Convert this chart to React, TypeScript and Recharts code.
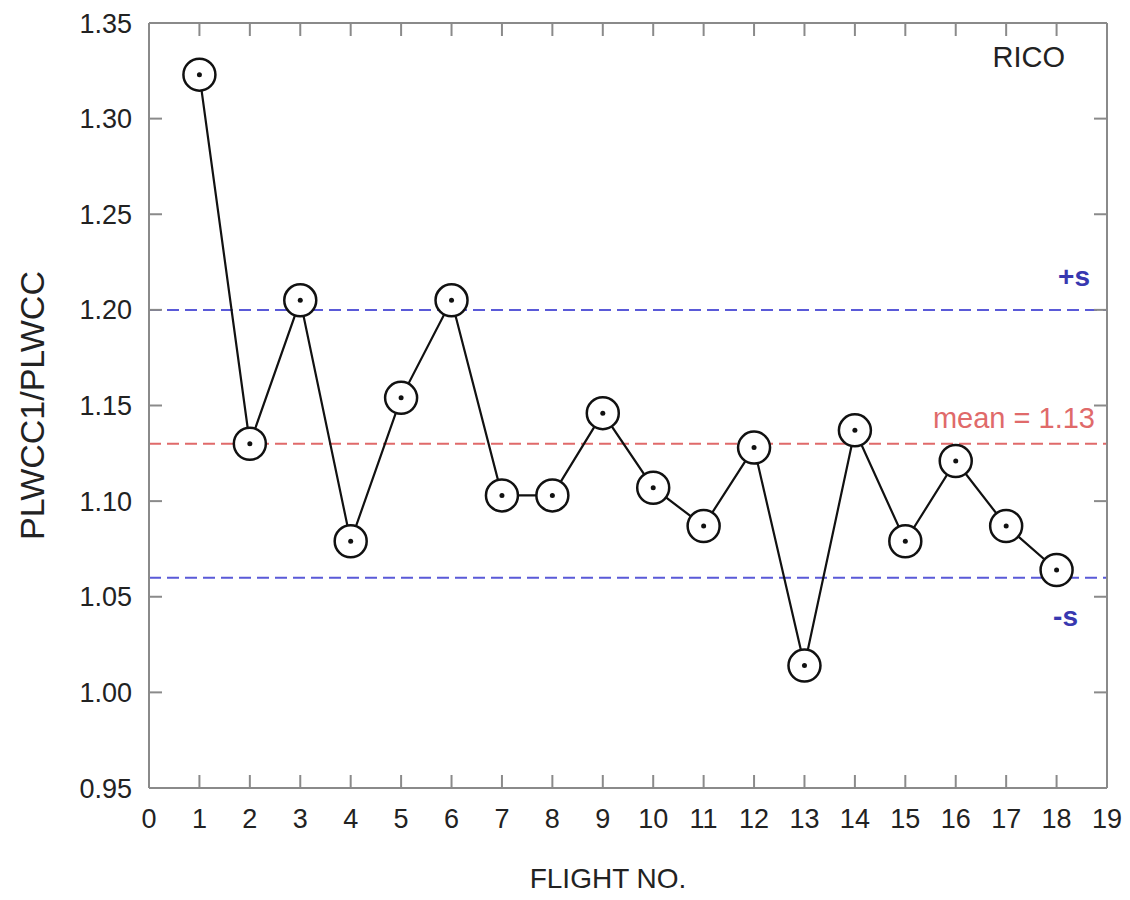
import { LineChart, Line, XAxis, YAxis, ReferenceLine } from 'recharts';

const flights = [1, 2, 3, 4, 5, 6, 7, 8, 9, 10, 11, 12, 13, 14, 15, 16, 17, 18];
const ratios = [
  1.323, 1.130, 1.205, 1.079, 1.154, 1.205, 1.103, 1.103, 1.146,
  1.107, 1.087, 1.128, 1.014, 1.137, 1.079, 1.121, 1.087, 1.064,
];
const xTicks = [0, 1, 2, 3, 4, 5, 6, 7, 8, 9, 10, 11, 12, 13, 14, 15, 16, 17, 18, 19];
const yTicks = [0.95, 1.0, 1.05, 1.1, 1.15, 1.2, 1.25, 1.3, 1.35];
const MEAN = 1.13;
const PLUS_S = 1.2;
const MINUS_S = 1.06;

const FONT = '"Liberation Sans", Arial, sans-serif';
const AXIS_GRAY = '#8a8a8a';
const BLUE = '#5a5ad8';
const RED = '#e06a6a';

const data = flights.map((flight, i) => ({ flight, ratio: ratios[i] }));

// circle with a dot in the middle, like the original plot symbol
const FlightDot = (props: any) => {
  const { cx, cy, index } = props;
  if (cx == null || cy == null) return null;
  return (
    <g key={`dot-${index}`}>
      <circle cx={cx} cy={cy} r={16} fill="#fff" stroke="#111" strokeWidth={2.5} />
      <circle cx={cx} cy={cy} r={2.5} fill="#111" />
    </g>
  );
};

// text placed relative to the right end of a reference line
const lineLabel = (text: string, color: string, dx: number, dy: number, size: number, weight = 400) =>
  (props: any) => {
    const vb = props.viewBox;
    if (!vb) return null;
    return (
      <text
        x={vb.x + vb.width - dx}
        y={vb.y + dy}
        textAnchor="end"
        fill={color}
        fontSize={size}
        fontWeight={weight}
        fontFamily={FONT}
      >
        {text}
      </text>
    );
  };

const noLabel = () => '';

export default function App() {
  return (
    <div style={{ position: 'absolute', left: 0, top: 0, background: '#fff' }}>
      <LineChart
        width={1130}
        height={900}
        data={data}
        margin={{ top: 22, right: 22, bottom: 0, left: 0 }}
        style={{ fontFamily: FONT }}
      >
        <XAxis
          dataKey="flight"
          type="number"
          domain={[0, 19]}
          ticks={xTicks}
          interval={0}
          height={112}
          tickSize={-13}
          tickMargin={34}
          axisLine={{ stroke: AXIS_GRAY, strokeWidth: 2 }}
          tickLine={{ stroke: AXIS_GRAY, strokeWidth: 2 }}
          tick={{ fill: '#222', fontSize: 27 }}
          label={{ value: 'FLIGHT NO.', position: 'insideBottom', offset: 12, dx: -20, fill: '#222', fontSize: 28 }}
        />
        <XAxis
          xAxisId="top"
          orientation="top"
          dataKey="flight"
          type="number"
          domain={[0, 19]}
          ticks={xTicks}
          interval={0}
          height={1}
          tickSize={-13}
          tickFormatter={noLabel}
          axisLine={{ stroke: AXIS_GRAY, strokeWidth: 2 }}
          tickLine={{ stroke: AXIS_GRAY, strokeWidth: 2 }}
        />
        <YAxis
          type="number"
          domain={[0.95, 1.35]}
          ticks={yTicks}
          interval={0}
          width={149}
          tickSize={-13}
          tickMargin={30}
          tickFormatter={(v: number) => v.toFixed(2)}
          axisLine={{ stroke: AXIS_GRAY, strokeWidth: 2 }}
          tickLine={{ stroke: AXIS_GRAY, strokeWidth: 2 }}
          tick={{ fill: '#222', fontSize: 27 }}
          label={{
            value: 'PLWCC1/PLWCC',
            angle: -90,
            position: 'insideLeft',
            offset: 32,
            fill: '#222',
            fontSize: 34,
            style: { textAnchor: 'middle' },
          }}
        />
        <YAxis
          yAxisId="right"
          orientation="right"
          type="number"
          domain={[0.95, 1.35]}
          ticks={yTicks}
          interval={0}
          width={1}
          tickSize={-13}
          tickFormatter={noLabel}
          axisLine={{ stroke: AXIS_GRAY, strokeWidth: 2 }}
          tickLine={{ stroke: AXIS_GRAY, strokeWidth: 2 }}
        />
        <ReferenceLine
          y={1.35}
          stroke="none"
          label={{ content: lineLabel('RICO', '#222', 42, 44, 29) }}
        />
        <ReferenceLine
          y={PLUS_S}
          stroke={BLUE}
          strokeWidth={2}
          strokeDasharray="12 6"
          label={{ content: lineLabel('+s', '#3838b0', 17, -24, 28, 700) }}
        />
        <ReferenceLine
          y={MEAN}
          stroke={RED}
          strokeWidth={2}
          strokeDasharray="12 6"
          label={{ content: lineLabel(`mean = ${MEAN.toFixed(2)}`, RED, 12, -16, 29) }}
        />
        <ReferenceLine
          y={MINUS_S}
          stroke={BLUE}
          strokeWidth={2}
          strokeDasharray="12 6"
          label={{ content: lineLabel('-s', '#3838b0', 29, 48, 28, 700) }}
        />
        {/* invisible copy so the top/right frame axes get their ticks */}
        <Line
          xAxisId="top"
          yAxisId="right"
          dataKey="ratio"
          stroke="none"
          dot={false}
          activeDot={false}
          isAnimationActive={false}
        />
        <Line
          dataKey="ratio"
          stroke="#111"
          strokeWidth={2.2}
          dot={FlightDot}
          activeDot={false}
          isAnimationActive={false}
        />
      </LineChart>
    </div>
  );
}
